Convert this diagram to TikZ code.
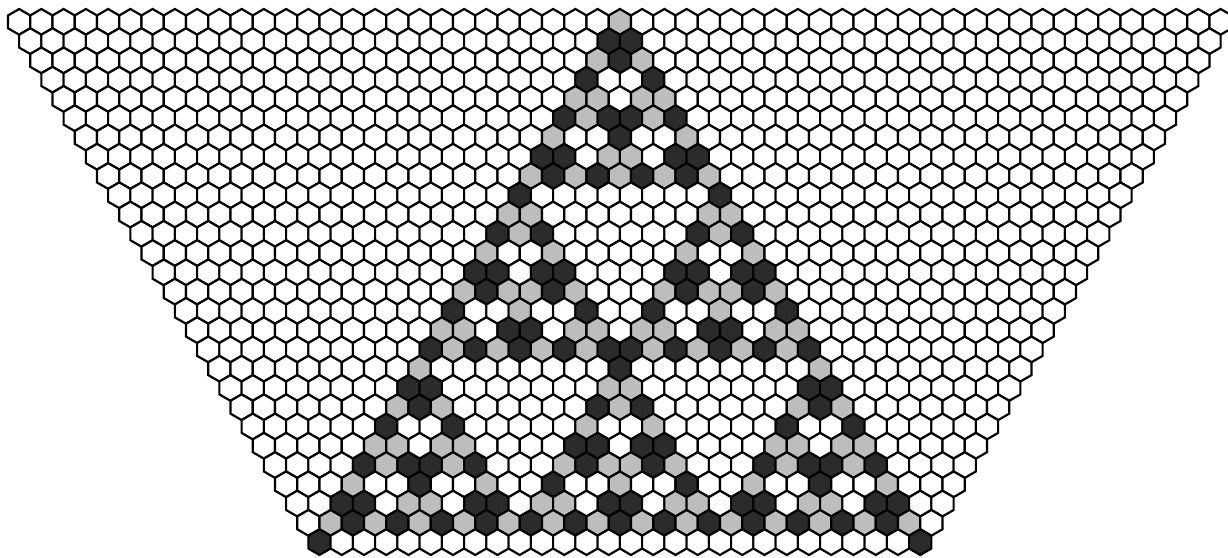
\documentclass[tikz,border=0pt]{standalone}
\begin{document}
\begin{tikzpicture}
\tikzstyle{cell} = [draw, line width=1.4pt]
\colorlet{state0}{white}
\definecolor{state1}{gray}{0.74}
\definecolor{state2}{gray}{0.17}
\def\hexw{0.5}
\def\hexr{0.288675}
\def\rowh{0.433013}
\useasboundingbox (-13.93,-12.047) rectangle (13.666,0.491);

\foreach \row in {0,...,27}{
  \pgfmathtruncatemacro\lastcol{54-\row}
  \foreach \col in {0,...,\lastcol}{
    \pgfmathtruncatemacro\kk{\col-27+\row}
    \pgfmathtruncatemacro\bad{(mod(\kk,3)>mod(\row,3)) + (mod(div(\kk,3),3)>mod(div(\row,3),3)) + (mod(div(\kk,9),3)>mod(div(\row,9),3)) + (div(\kk,27)>div(\row,27))}
    \pgfmathtruncatemacro\twos{and(mod(\kk,3)==1, mod(\row,3)==2) + and(mod(div(\kk,3),3)==1, mod(div(\row,3),3)==2) + and(mod(div(\kk,9),3)==1, mod(div(\row,9),3)==2)}
    \pgfmathtruncatemacro\state{ifthenelse(\kk<0 || \kk>\row || \bad>0, 0, 1+mod(\twos+\row,2))}
    \path[cell, fill=state\state] ({(\col-27+\row/2)*\hexw}, {-\row*\rowh})
      +(30:\hexr) -- +(90:\hexr) -- +(150:\hexr) -- +(210:\hexr) -- +(270:\hexr) -- +(330:\hexr) -- cycle;
  }
}
\end{tikzpicture}
\end{document}
